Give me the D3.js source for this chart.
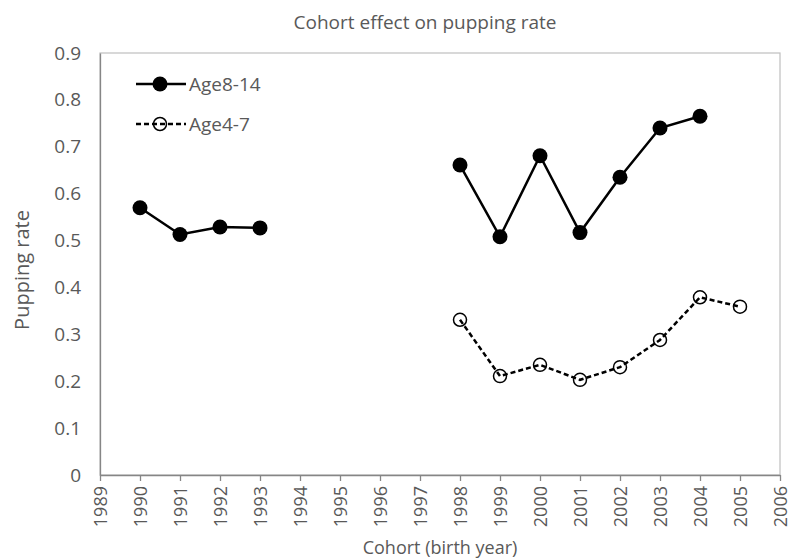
<!DOCTYPE html>
<html>
<head>
<meta charset="utf-8">
<script src="https://cdn.jsdelivr.net/npm/d3@7"></script>
<style>
  html, body { margin: 0; padding: 0; background: #fff; }
  svg text { font-family: "Open Sans", "Noto Sans", sans-serif; fill: #595959; }
</style>
</head>
<body>
<svg id="chart" width="792" height="560"></svg>
<script>
// Cohort years and pupping rates per age class
const yearsOld = [1990, 1991, 1992, 1993, 1998, 1999, 2000, 2001, 2002, 2003, 2004];
const age8to14 = [0.570, 0.513, 0.529, 0.527, 0.661, 0.508, 0.681, 0.517, 0.635, 0.740, 0.765];
const yearsYoung = [1998, 1999, 2000, 2001, 2002, 2003, 2004, 2005];
const age4to7 = [0.331, 0.211, 0.235, 0.203, 0.230, 0.288, 0.379, 0.359];
const xTicks = d3.range(1989, 2007);
const yTicks = [0, 0.1, 0.2, 0.3, 0.4, 0.5, 0.6, 0.7, 0.8, 0.9];
const seriesNames = ["Age8-14", "Age4-7"];

const svg = d3.select("#chart");
const m = { left: 100, right: 780, top: 53, bottom: 475 };

const x = d3.scaleLinear().domain([1989, 2006]).range([m.left, m.right]);
const y = d3.scaleLinear().domain([0, 0.9]).range([m.bottom, m.top]);

// plot-area frame
svg.append("rect")
  .attr("x", m.left).attr("y", m.top)
  .attr("width", m.right - m.left).attr("height", m.bottom - m.top)
  .attr("fill", "none").attr("stroke", "#bfbfbf").attr("stroke-width", 1.2);

// x axis
const xAxis = svg.append("g")
  .attr("transform", `translate(0,${m.bottom})`)
  .call(d3.axisBottom(x).tickValues(xTicks).tickFormat(d3.format("d")).tickSize(6).tickSizeOuter(0));
xAxis.select(".domain").attr("stroke", "#868686").attr("stroke-width", 1.3);
xAxis.selectAll(".tick line").attr("stroke", "#868686").attr("stroke-width", 1.3);
xAxis.selectAll(".tick text")
  .attr("transform", "rotate(-90)")
  .attr("text-anchor", "end")
  .attr("x", -11).attr("y", 0).attr("dy", "0.36em")
  .style("font-size", "18px").attr("fill", "#595959");

// y axis
const yAxis = svg.append("g")
  .attr("transform", `translate(${m.left},0)`)
  .call(d3.axisLeft(y).tickValues(yTicks).tickFormat(d => d === 0 ? "0" : d3.format(".1f")(d)).tickSize(0).tickPadding(19));
yAxis.select(".domain").attr("stroke", "#868686").attr("stroke-width", 1.3);
yAxis.selectAll(".tick text").style("font-size", "19px").attr("fill", "#595959");

// titles
svg.append("text").attr("x", 425).attr("y", 29).attr("text-anchor", "middle")
  .style("font-size", "19px").text("Cohort effect on pupping rate");
svg.append("text").attr("x", 440).attr("y", 554).attr("text-anchor", "middle")
  .style("font-size", "18px").text("Cohort (birth year)");
svg.append("text").attr("transform", "translate(29,270) rotate(-90)").attr("text-anchor", "middle")
  .style("font-size", "20px").text("Pupping rate");

const old = yearsOld.map((yr, i) => ({ yr, v: age8to14[i] }));
const young = yearsYoung.map((yr, i) => ({ yr, v: age4to7[i] }));

const line = d3.line().x(d => x(d.yr)).y(d => y(d.v));

// break the older series where cohorts are missing (1994-1997)
const oldSegments = [old.filter(d => d.yr <= 1993), old.filter(d => d.yr >= 1998)];
oldSegments.forEach(seg => {
  svg.append("path").datum(seg).attr("d", line)
    .attr("fill", "none").attr("stroke", "#000").attr("stroke-width", 2.5);
});
svg.append("path").datum(young).attr("d", line)
  .attr("fill", "none").attr("stroke", "#000").attr("stroke-width", 2.5)
  .attr("stroke-dasharray", "5,3");

svg.selectAll("circle.old").data(old).enter().append("circle")
  .attr("class", "old")
  .attr("cx", d => x(d.yr)).attr("cy", d => y(d.v)).attr("r", 7.5)
  .attr("fill", "#000");
svg.selectAll("circle.young").data(young).enter().append("circle")
  .attr("class", "young")
  .attr("cx", d => x(d.yr)).attr("cy", d => y(d.v)).attr("r", 6.5)
  .attr("fill", "none").attr("stroke", "#000").attr("stroke-width", 1.5);

// legend
const legend = svg.append("g");
const legY = [84, 124];
seriesNames.forEach((name, i) => {
  const g = legend.append("g").attr("transform", `translate(0,${legY[i]})`);
  g.append("line").attr("x1", 136).attr("x2", 186).attr("y1", 0).attr("y2", 0)
    .attr("stroke", "#000").attr("stroke-width", 2.5)
    .attr("stroke-dasharray", i === 0 ? null : "5,3");
  if (i === 0) {
    g.append("circle").attr("cx", 160).attr("cy", 0).attr("r", 7.5).attr("fill", "#000");
  } else {
    g.append("circle").attr("cx", 160).attr("cy", 0).attr("r", 6.5)
      .attr("fill", "none").attr("stroke", "#000").attr("stroke-width", 1.5);
  }
  g.append("text").attr("x", 189).attr("y", 0).attr("dy", "0.35em")
    .style("font-size", "19px").text(name);
});
</script>
</body>
</html>
